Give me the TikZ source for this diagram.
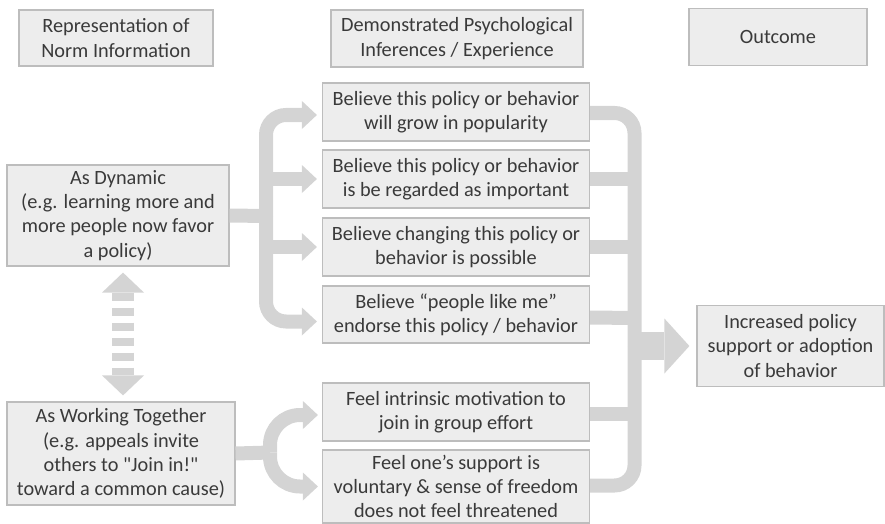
\documentclass[tikz,border=0pt]{standalone}
\usepackage{fontspec}
\setmainfont{Carlito}[Ligatures=TeXOff]
\usetikzlibrary{arrows.meta}
\definecolor{flowgray}{HTML}{D4D4D4}
\definecolor{boxfill}{HTML}{EDEDED}
\definecolor{boxline}{HTML}{BDBDBD}
\definecolor{boxtext}{HTML}{3A3A3A}

\begin{document}
\begin{tikzpicture}[x=1pt,y=-1pt,
    box/.style={draw=boxline,fill=boxfill,line width=1.2pt,text=boxtext,align=center,
      inner sep=0pt,font=\fontsize{20.3}{24.2}\selectfont},
    midbox/.style={box,minimum width=267pt,minimum height=58pt},
    flow/.style={draw=flowgray,line width=14pt},
    branch/.style={-{Triangle[length=15pt,width=28pt,line width=0pt]}}]
    \useasboundingbox (0,0) rectangle (885,524);

    % Headers
    \node[box,minimum width=194pt,minimum height=56pt] (hnorm) at (116,38) {Representation of\\Norm Information};
    \node[box,minimum width=252pt,minimum height=57pt] (hinfer) at (457,38.5) {Demonstrated Psychological\\Inferences / Experience};
    \node[box,minimum width=178pt,minimum height=57pt] (hout) at (778,37) {Outcome};

    % Norm representations
    \node[box,minimum width=222pt,minimum height=101pt] (dyn) at (118,215.5) {As Dynamic\\(e.g. learning more and\\more people now favor\\a policy)};
    \node[box,minimum width=228pt,minimum height=103pt] (work) at (121,453.5) {As Working Together\\(e.g. appeals invite\\others to "Join in!"\\toward a common cause)};

    % Inferences
    \node[midbox] (b1) at (456,112) {Believe this policy or behavior\\will grow in popularity};
    \node[midbox] (b2) at (456,179) {Believe this policy or behavior\\is be regarded as important};
    \node[midbox] (b3) at (456,247) {Believe changing this policy or\\behavior is possible};
    \node[midbox,minimum height=57pt] (b4) at (456,314.5) {Believe “people like me”\\endorse this policy / behavior};
    \node[midbox] (b5) at (456,412) {Feel intrinsic motivation to\\join in group effort};
    \node[midbox,minimum height=73pt] (b6) at (456,486.5) {Feel one’s support is\\voluntary \& sense of freedom\\does not feel threatened};

    % Outcome
    \node[box,minimum width=187pt,minimum height=81pt] (out) at (790.5,346) {Increased policy\\support or adoption\\of behavior};

    % Forks
    \coordinate (lfork) at (266,216);
    \coordinate (bfork) at (270,452.5);
    \coordinate (rfork) at (634.5,346);

    % Dynamic -> beliefs
    \draw[flow] (dyn.east) -- (lfork);
    \draw[flow,branch,rounded corners=20pt,shorten >=5pt] (lfork) |- ([yshift=-3pt]b1.west);
    \draw[flow,branch,shorten >=5pt] (lfork |- b2.west) -- (b2.west);
    \draw[flow,branch,shorten >=5pt] (lfork |- b3.west) -- (b3.west);
    \draw[flow,branch,rounded corners=20pt,shorten >=5pt] (lfork) |- ([yshift=-7pt]b4.west);

    % Working together -> feelings
    \draw[flow] (work.east) -- (bfork);
    \draw[flow,branch,rounded corners=30pt,shorten >=4pt] (bfork) |- ([yshift=-3pt]b5.west);
    \draw[flow,branch,rounded corners=30pt,shorten >=4pt] (bfork) |- (b6.west);

    % Collect into outcome
    \draw[flow,rounded corners=20pt] ([yshift=-1pt]b1.east) -| (rfork);
    \draw[flow,rounded corners=20pt] ([yshift=1pt]b6.east) -| (rfork);
    \draw[flow] (b2.east) -- (rfork |- b2.east);
    \draw[flow] (b3.east) -- (rfork |- b3.east);
    \draw[flow] ([yshift=-3pt]b4.east) -- (rfork |- 0,318);
    \draw[flow] ([yshift=-2pt]b5.east) -- (rfork |- 0,414);
    \draw[draw=flowgray,line width=28pt,-{Triangle[length=25pt,width=55pt,line width=0pt]},shorten >=7pt] (rfork) -- (out.west);

    % Dynamic <-> working together
    \draw[draw=flowgray,line width=22pt,dash pattern=on 8pt off 7pt,
      {Triangle[length=20pt,width=42pt,line width=0pt]}-{Triangle[length=20pt,width=42pt,line width=0pt]},
      shorten <=6pt,shorten >=6pt] ([xshift=5pt]dyn.south) -- ([xshift=5pt]dyn.south |- work.north);
\end{tikzpicture}
\end{document}
